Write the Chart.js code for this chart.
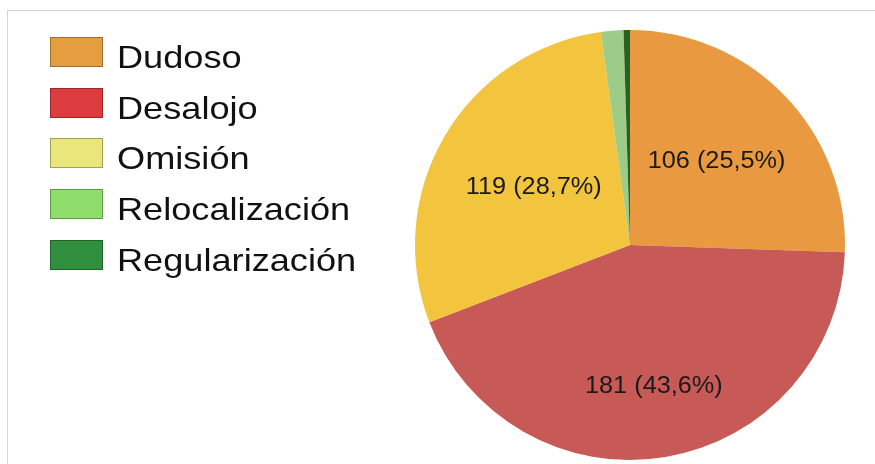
<!DOCTYPE html>
<html>
<head>
<meta charset="utf-8">
<script src="https://cdn.jsdelivr.net/npm/chart.js@4/dist/chart.umd.min.js"></script>
<style>
	html, body { margin: 0; padding: 0; background: #fff; }
	#wrap { position: relative; width: 875px; height: 464px; overflow: hidden; }
	#frame { position: absolute; left: 7px; top: 10px; right: -2px; bottom: -2px; border-top: 1px solid #d4d4d4; border-left: 1px solid #d4d4d4; }
	#chart { position: absolute; left: 0; top: 0; }
	#legend { position: absolute; left: 50px; top: 37px; font-family: "Liberation Sans", Arial, sans-serif; }
	.item { position: relative; height: 50.7px; }
	.box { position: absolute; left: 0; top: 0; width: 51px; height: 28px; border: 1px solid rgba(0,0,0,0.3); }
	.txt { position: absolute; left: 67px; top: 2px; font-size: 32px; line-height: 37px; color: #111; white-space: nowrap; transform: scaleX(1.13); transform-origin: left center; }
</style>
</head>
<body>
<div id="wrap">
	<div id="frame"></div>
	<canvas id="chart" width="875" height="464"></canvas>
	<div id="legend"></div>
</div>
<script>
	// Data
	const LABELS = ["Dudoso", "Desalojo", "Omisión", "Relocalización", "Regularización"];
	const VALUES = [106, 181, 119, 7, 2];
	const SLICE_COLORS = ["#E99A40", "#C75A56", "#F3C43D", "#9CCC88", "#27631F"];
	const LEGEND_COLORS = ["#E49D3F", "#DD3C3F", "#E9E77B", "#8FDD6A", "#2F8F3E"];

	const TOTAL = VALUES.reduce((a, b) => a + b, 0);

	// Labels inside slices
	const sliceLabels = {
		id: "sliceLabels",
		afterDatasetsDraw(chart, args, opts) {
			const { ctx } = chart;
			const meta = chart.getDatasetMeta(0);
			meta.data.forEach((arc, i) => {
				const pct = (VALUES[i] / TOTAL) * 100;
				if (pct < 5) return;
				const text = `${VALUES[i]} (${pct.toFixed(1).replace(".", ",")}%)`;
				const mid = (arc.startAngle + arc.endAngle) / 2;
				const r = arc.outerRadius * opts.radius[i];
				const x = arc.x + Math.cos(mid) * r;
				const y = arc.y + Math.sin(mid) * r;
				ctx.save();
				ctx.translate(x, y);
				ctx.scale(1.1, 1);
				ctx.font = '23px "Liberation Sans", Arial, sans-serif';
				ctx.fillStyle = "#1a1a1a";
				ctx.textAlign = "center";
				ctx.textBaseline = "middle";
				ctx.fillText(text, 0, 0);
				ctx.restore();
			});
		},
	};

	new Chart(document.getElementById("chart"), {
		type: "pie",
		data: {
			labels: LABELS,
			datasets: [
				{
					data: VALUES,
					backgroundColor: SLICE_COLORS,
					borderWidth: 0,
				},
			],
		},
		options: {
			responsive: false,
			animation: false,
			layout: {
				padding: { left: 415, right: 30, top: 30, bottom: 4 },
			},
			plugins: {
				legend: { display: false },
				tooltip: { enabled: false },
				sliceLabels: { radius: [0.56, 0.67, 0.52] },
			},
		},
		plugins: [sliceLabels],
	});

	// Legend
	let list = "";
	LABELS.forEach((label, i) => {
		list += `<div class="item"><div class="box" style="background:${LEGEND_COLORS[i]}"></div><div class="txt">${label}</div></div>`;
	});
	document.getElementById("legend").innerHTML = list;
</script>
</body>
</html>
